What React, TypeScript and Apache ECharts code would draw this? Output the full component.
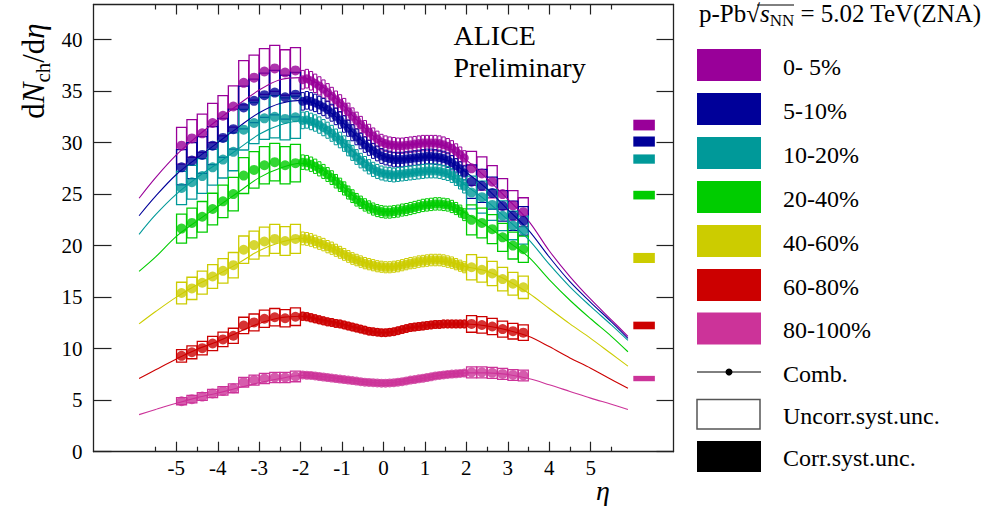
import React, { useEffect, useRef } from 'react';
import * as echarts from 'echarts';

const FONT = "'Liberation Serif', 'DejaVu Serif', serif";

const classNames = ['0- 5%', '5-10%', '10-20%', '20-40%', '40-60%', '60-80%', '80-100%'];
const classColors = ['#990099', '#000099', '#009999', '#00cc00', '#cccc00', '#cc0000', '#cc3399'];

// pseudorapidity bins
const etaFwdLeft = [-4.875, -4.625, -4.375, -4.125, -3.875, -3.625, -3.375, -3.125, -2.875, -2.625, -2.375, -2.125];
const etaFwdRight = [2.125, 2.375, 2.625, 2.875, 3.125, 3.375];
const etaMid = [-1.95, -1.85, -1.75, -1.65, -1.55, -1.45, -1.35, -1.25, -1.15, -1.05, -0.95, -0.85, -0.75, -0.65, -0.55, -0.45, -0.35, -0.25, -0.15, -0.05,
  0.05, 0.15, 0.25, 0.35, 0.45, 0.55, 0.65, 0.75, 0.85, 0.95, 1.05, 1.15, 1.25, 1.35, 1.45, 1.55, 1.65, 1.75, 1.85, 1.95];
const etaFit = [-5.9, -5.5, -5, -4.5, -4, -3.5, -3, -2.5, -2, -1.5, -1, -0.5, 0, 0.5, 1, 1.5, 2, 2.5, 3, 3.5, 4, 4.5, 5, 5.5, 5.9];

// dNch/deta, forward (left) bins
const fwdLeft0_5 = [29.7, 30.4, 30.9, 31.9, 32.6, 33.5, 35.8, 36.3, 36.9, 37.2, 36.8, 37.0];
const fwdLeft5_10 = [27.6, 28.25, 28.8, 29.7, 30.45, 31.3, 33.4, 34.05, 34.6, 34.85, 34.4, 34.65];
const fwdLeft10_20 = [25.6, 26.15, 26.75, 27.6, 28.35, 29.1, 31.25, 31.9, 32.35, 32.5, 32.3, 32.45];
const fwdLeft20_40 = [21.65, 22.2, 22.8, 23.55, 24.3, 25.0, 26.8, 27.35, 27.8, 28.1, 27.8, 28.0];
const fwdLeft40_60 = [15.4, 15.85, 16.4, 17.0, 17.55, 18.1, 19.6, 20.05, 20.4, 20.65, 20.45, 20.65];
const fwdLeft60_80 = [9.3, 9.65, 10.05, 10.5, 10.9, 11.25, 12.25, 12.55, 12.9, 13.05, 12.95, 13.1];
const fwdLeft80_100 = [4.9, 5.1, 5.35, 5.65, 5.9, 6.15, 6.75, 6.95, 7.1, 7.2, 7.2, 7.3];

// forward (right) bins
const fwdRight0_5 = [27.5, 27.0, 26.2, 25.0, 23.9, 23.25];
const fwdRight5_10 = [26.2, 25.8, 25.1, 23.85, 22.9, 22.4];
const fwdRight10_20 = [25.15, 24.7, 23.95, 22.9, 21.95, 21.5];
const fwdRight20_40 = [22.5, 22.2, 21.6, 20.8, 20.0, 19.65];
const fwdRight40_60 = [17.9, 17.65, 17.3, 16.75, 16.3, 15.95];
const fwdRight60_80 = [12.4, 12.3, 12.15, 11.9, 11.7, 11.55];
const fwdRight80_100 = [7.7, 7.7, 7.65, 7.55, 7.45, 7.4];

// central bins
const mid0_5 = [36.1, 36.2, 36.0, 35.75, 35.5, 35.2, 34.85, 34.5, 34.15, 33.8, 33.45, 33.0, 32.55, 32.15, 31.75, 31.35, 31.0, 30.65, 30.35, 30.05,
  29.9, 29.8, 29.75, 29.7, 29.7, 29.75, 29.8, 29.85, 29.9, 29.95, 29.95, 29.95, 29.95, 29.9, 29.8, 29.65, 29.45, 29.15, 28.85, 28.5];
const mid5_10 = [34.0, 34.1, 34.0, 33.85, 33.65, 33.45, 33.2, 32.9, 32.55, 32.2, 31.8, 31.4, 30.95, 30.55, 30.15, 29.8, 29.5, 29.2, 28.95, 28.7,
  28.55, 28.45, 28.35, 28.35, 28.35, 28.4, 28.45, 28.5, 28.55, 28.6, 28.65, 28.65, 28.6, 28.55, 28.45, 28.3, 28.05, 27.75, 27.45, 27.05];
const mid10_20 = [32.15, 32.2, 32.05, 31.9, 31.7, 31.45, 31.2, 30.9, 30.55, 30.25, 29.9, 29.45, 29.0, 28.6, 28.25, 27.95, 27.65, 27.4, 27.2, 27.05,
  26.95, 26.9, 26.85, 26.9, 26.95, 27.0, 27.05, 27.1, 27.15, 27.2, 27.25, 27.25, 27.25, 27.2, 27.1, 27.0, 26.8, 26.5, 26.15, 25.75];
const mid20_40 = [28.1, 28.05, 27.9, 27.7, 27.45, 27.2, 26.9, 26.6, 26.25, 25.9, 25.55, 25.15, 24.8, 24.45, 24.2, 23.95, 23.75, 23.55, 23.4, 23.3,
  23.25, 23.25, 23.3, 23.35, 23.45, 23.5, 23.6, 23.7, 23.8, 23.9, 23.95, 24.0, 24.05, 24.05, 24.0, 23.95, 23.8, 23.6, 23.35, 23.0];
const mid40_60 = [20.7, 20.65, 20.55, 20.4, 20.25, 20.1, 19.9, 19.75, 19.55, 19.35, 19.15, 18.95, 18.75, 18.6, 18.45, 18.3, 18.2, 18.1, 18.0, 17.95,
  17.9, 17.9, 17.95, 18.0, 18.1, 18.2, 18.3, 18.35, 18.45, 18.5, 18.55, 18.6, 18.6, 18.6, 18.55, 18.45, 18.35, 18.2, 18.05, 17.9];
const mid60_80 = [13.15, 13.1, 13.0, 12.9, 12.8, 12.7, 12.6, 12.55, 12.45, 12.4, 12.3, 12.2, 12.1, 12.0, 11.9, 11.8, 11.7, 11.65, 11.6, 11.55,
  11.55, 11.6, 11.65, 11.75, 11.85, 11.95, 12.05, 12.1, 12.15, 12.2, 12.25, 12.3, 12.35, 12.35, 12.4, 12.4, 12.4, 12.4, 12.4, 12.4];
const mid80_100 = [7.45, 7.42, 7.4, 7.35, 7.3, 7.25, 7.2, 7.15, 7.1, 7.05, 7.0, 6.95, 6.9, 6.85, 6.8, 6.75, 6.72, 6.7, 6.67, 6.65,
  6.65, 6.67, 6.7, 6.75, 6.8, 6.87, 6.95, 7.0, 7.07, 7.13, 7.2, 7.27, 7.35, 7.4, 7.45, 7.5, 7.53, 7.56, 7.6, 7.63];

// fitted curves
const fit0_5 = [24.6, 26.6, 28.8, 30.6, 32.2, 33.7, 35.1, 36.1, 36.3, 35.5, 33.7, 31.6, 30.0, 29.75, 29.95, 29.65, 28.3, 26.5, 24.5, 22.4, 19.5, 17.0, 14.8, 12.8, 11.2];
const fit5_10 = [22.9, 24.8, 26.9, 28.5, 30.0, 31.5, 32.9, 33.8, 34.1, 33.5, 32.0, 30.1, 28.65, 28.4, 28.6, 28.3, 27.1, 25.5, 23.5, 21.5, 18.9, 16.5, 14.5, 12.6, 11.0];
const fit10_20 = [21.1, 23.0, 25.0, 26.6, 28.0, 29.4, 30.8, 31.7, 32.1, 31.5, 30.1, 28.3, 27.0, 26.95, 27.2, 27.0, 25.8, 24.3, 22.5, 20.6, 18.2, 16.0, 14.1, 12.3, 10.8];
const fit20_40 = [17.5, 18.9, 20.9, 22.4, 23.8, 25.2, 26.6, 27.5, 28.0, 27.4, 25.8, 24.1, 23.3, 23.45, 23.9, 23.9, 23.1, 21.9, 20.4, 18.9, 16.7, 14.7, 12.9, 11.2, 9.7];
const fit40_60 = [12.4, 13.6, 15.0, 16.2, 17.2, 18.3, 19.5, 20.3, 20.7, 20.2, 19.3, 18.4, 17.95, 18.1, 18.5, 18.45, 17.95, 17.5, 16.6, 15.4, 13.9, 12.4, 11.0, 9.5, 8.3];
const fit60_80 = [7.1, 7.95, 9.0, 9.95, 10.7, 11.6, 12.45, 13.0, 13.15, 12.8, 12.4, 11.85, 11.55, 11.9, 12.25, 12.4, 12.4, 12.2, 11.8, 11.2, 10.2, 9.1, 8.1, 7.0, 6.15];
const fit80_100 = [3.6, 4.1, 4.7, 5.25, 5.7, 6.2, 6.7, 7.1, 7.4, 7.3, 7.05, 6.8, 6.65, 6.85, 7.15, 7.5, 7.65, 7.65, 7.5, 7.1, 6.5, 5.85, 5.2, 4.6, 4.1];

// uncorrelated systematic uncertainty (relative)
const uncorrFwdRel = [0.06, 0.062, 0.063, 0.065, 0.068, 0.065, 0.07];
const uncorrMidRel = [0.025, 0.025, 0.025, 0.025, 0.03, 0.03, 0.035];

// correlated systematic uncertainty markers
const corrEta = 6.29;
const corrCenter = [31.7, 30.1, 28.4, 24.9, 18.8, 12.25, 7.1];
const corrHalf = [0.52, 0.49, 0.45, 0.42, 0.49, 0.37, 0.26];

const yTicks = [0, 5, 10, 15, 20, 25, 30, 35, 40];
const xMajor = [-5, -4, -3, -2, -1, 0, 1, 2, 3, 4, 5];
const xMinor = [-5.5, -4.5, -3.5, -2.5, -1.5, -0.5, 0.5, 1.5, 2.5, 3.5, 4.5, 5.5];

const fwdLeftAll = [fwdLeft0_5, fwdLeft5_10, fwdLeft10_20, fwdLeft20_40, fwdLeft40_60, fwdLeft60_80, fwdLeft80_100];
const fwdRightAll = [fwdRight0_5, fwdRight5_10, fwdRight10_20, fwdRight20_40, fwdRight40_60, fwdRight60_80, fwdRight80_100];
const midAll = [mid0_5, mid5_10, mid10_20, mid20_40, mid40_60, mid60_80, mid80_100];
const fitAll = [fit0_5, fit5_10, fit10_20, fit20_40, fit40_60, fit60_80, fit80_100];

const AXIS_COLOR = '#222';

function boxRender(color: string, filled: boolean, lw: number) {
  return (params: any, api: any) => {
    const x = api.value(0), y = api.value(1), hw = api.value(2), hh = api.value(3);
    const p1 = api.coord([x - hw, y + hh]);
    const p2 = api.coord([x + hw, y - hh]);
    return {
      type: 'rect',
      shape: { x: p1[0], y: p1[1], width: p2[0] - p1[0], height: p2[1] - p1[1] },
      style: filled ? { fill: color, stroke: 'none' } : { fill: 'none', stroke: color, lineWidth: lw },
    };
  };
}

function buildOption() {
  const boxSeries: any[] = [];
  const lineSeries: any[] = [];
  const dotSeries: any[] = [];
  const corrSeries: any[] = [];
  for (let i = 0; i < classNames.length; i++) {
    const color = classColors[i];
    const fwd: number[][] = [];
    etaFwdLeft.forEach((e, k) => fwd.push([e, fwdLeftAll[i][k], 0.12, fwdLeftAll[i][k] * uncorrFwdRel[i]]));
    etaFwdRight.forEach((e, k) => fwd.push([e, fwdRightAll[i][k], 0.12, fwdRightAll[i][k] * uncorrFwdRel[i]]));
    const mid: number[][] = etaMid.map((e, k) => [e, midAll[i][k], 0.04, midAll[i][k] * uncorrMidRel[i]]);
    boxSeries.push({
      type: 'custom', name: classNames[i] + ' uncorr', renderItem: boxRender(color, false, 1.3),
      data: fwd, encode: { x: 0, y: 1 }, silent: true, z: 2,
    });
    boxSeries.push({
      type: 'custom', name: classNames[i] + ' uncorr mid', renderItem: boxRender(color, false, 1),
      data: mid, encode: { x: 0, y: 1 }, silent: true, z: 2,
    });
    lineSeries.push({
      type: 'line', name: classNames[i] + ' fit', data: etaFit.map((e, k) => [e, fitAll[i][k]]),
      showSymbol: false, smooth: 0.35, lineStyle: { color, width: 1.1 }, silent: true, z: 3,
    });
    const pts: number[][] = [];
    etaFwdLeft.forEach((e, k) => pts.push([e, fwdLeftAll[i][k]]));
    etaFwdRight.forEach((e, k) => pts.push([e, fwdRightAll[i][k]]));
    dotSeries.push({
      type: 'scatter', name: classNames[i], data: pts, symbol: 'circle', symbolSize: 10,
      itemStyle: { color }, silent: true, z: 4,
    });
    dotSeries.push({
      type: 'scatter', name: classNames[i] + ' mid', data: etaMid.map((e, k) => [e, midAll[i][k]]), symbol: 'circle', symbolSize: 9,
      itemStyle: { color }, silent: true, z: 4,
    });
    corrSeries.push({
      type: 'custom', name: classNames[i] + ' corr', renderItem: boxRender(color, true, 0),
      data: [[corrEta, corrCenter[i], 0.26, corrHalf[i]]], encode: { x: 0, y: 1 }, silent: true, z: 5,
    });
  }

  const legendX = 697;
  const legendTextX = 783;
  const swatchCenters = [65, 109, 153, 197, 241, 285, 328.5];
  const graphics: any[] = [];
  swatchCenters.forEach((cy, i) => {
    graphics.push({ type: 'rect', shape: { x: legendX, y: cy - 16, width: 64, height: 32 }, style: { fill: classColors[i] } });
    graphics.push({ type: 'text', x: legendTextX, y: cy + 1.5, style: { text: classNames[i], font: `24px ${FONT}`, fill: '#000', align: 'left', verticalAlign: 'middle' } });
  });
  // Comb.
  graphics.push({ type: 'line', shape: { x1: legendX, y1: 372, x2: legendX + 64, y2: 372 }, style: { stroke: '#000', lineWidth: 1 } });
  graphics.push({ type: 'circle', shape: { cx: legendX + 32, cy: 372, r: 3.5 }, style: { fill: '#000' } });
  graphics.push({ type: 'text', x: legendTextX, y: 373.5, style: { text: 'Comb.', font: `24px ${FONT}`, fill: '#000', align: 'left', verticalAlign: 'middle' } });
  // Uncorr.
  graphics.push({ type: 'rect', shape: { x: legendX, y: 399.5, width: 63, height: 29.5 }, style: { fill: '#fff', stroke: '#555', lineWidth: 1.5 } });
  graphics.push({ type: 'text', x: legendTextX, y: 415.5, style: { text: 'Uncorr.syst.unc.', font: `24px ${FONT}`, fill: '#000', align: 'left', verticalAlign: 'middle' } });
  // Corr.
  graphics.push({ type: 'rect', shape: { x: legendX, y: 441, width: 64, height: 31 }, style: { fill: '#000' } });
  graphics.push({ type: 'text', x: legendTextX, y: 458, style: { text: 'Corr.syst.unc.', font: `24px ${FONT}`, fill: '#000', align: 'left', verticalAlign: 'middle' } });

  // legend header
  graphics.push({
    type: 'text', x: 699, y: 13.5,
    style: {
      text: '{a|p-Pb}{r|√}{s|s}{n|NN}{a| = 5.02 TeV(ZNA)}',
      align: 'left', verticalAlign: 'middle', font: `25px ${FONT}`, fill: '#000',
      rich: {
        a: { fontSize: 25, fontFamily: FONT, fill: '#000', lineHeight: 30 },
        r: { fontSize: 25, fontFamily: FONT, fill: '#000', lineHeight: 30 },
        s: { fontSize: 25, fontFamily: FONT, fontStyle: 'italic', fill: '#000', lineHeight: 30 },
        n: { fontSize: 17, fontFamily: FONT, fill: '#000', lineHeight: 17, verticalAlign: 'bottom' },
      },
    },
  });
  graphics.push({ type: 'line', shape: { x1: 757, y1: 5, x2: 794, y2: 5 }, style: { stroke: '#000', lineWidth: 1 } });

  // ALICE Preliminary
  graphics.push({ type: 'text', x: 453.5, y: 35, style: { text: 'ALICE', font: `28px ${FONT}`, fill: '#000', align: 'left', verticalAlign: 'middle' } });
  graphics.push({ type: 'text', x: 453.5, y: 67.5, style: { text: 'Preliminary', font: `28px ${FONT}`, fill: '#000', align: 'left', verticalAlign: 'middle' } });

  // axis titles
  graphics.push({
    type: 'text', x: 33, y: 71, rotation: Math.PI / 2,
    style: {
      text: '{d|d}{it|N}{sub|ch}{d|/d}{it|η}',
      align: 'center', verticalAlign: 'middle', font: `31px ${FONT}`, fill: '#000',
      rich: {
        d: { fontSize: 31, fontFamily: FONT, fill: '#000', lineHeight: 40 },
        it: { fontSize: 31, fontFamily: FONT, fontStyle: 'italic', fill: '#000', lineHeight: 40 },
        sub: { fontSize: 21, fontFamily: FONT, fill: '#000', lineHeight: 21, verticalAlign: 'bottom' },
      },
    },
  });
  graphics.push({ type: 'text', x: 603, y: 490, style: { text: 'η', font: `italic 28px ${FONT}`, lineHeight: 18, fill: '#000', align: 'center', verticalAlign: 'middle' } });

  const xCommon = { type: 'value', min: -7, max: 7, interval: 1, splitLine: { show: false } };
  const yCommon = { type: 'value', min: 0, max: 43.4, interval: 5, splitLine: { show: false } };

  return {
    animation: false,
    backgroundColor: '#fff',
    textStyle: { fontFamily: FONT },
    grid: { left: 93.5, right: 321.5, top: 4.5, bottom: 54.3, containLabel: false },
    xAxis: [
      {
        ...xCommon, position: 'bottom',
        axisLine: { show: true, onZero: false, lineStyle: { color: AXIS_COLOR, width: 1.3 } },
        axisTick: { show: true, inside: true, length: 10, customValues: xMajor, lineStyle: { color: AXIS_COLOR, width: 1.2 } },
        axisLabel: { show: true, customValues: xMajor, margin: 8, fontSize: 21, lineHeight: 16, fontFamily: FONT, color: '#000',
          formatter: (v: number) => (Math.abs(v) <= 5 ? String(v) : '') },
      },
      {
        ...xCommon, position: 'bottom',
        axisLine: { show: false, onZero: false },
        axisTick: { show: true, inside: true, length: 5, customValues: xMinor, lineStyle: { color: AXIS_COLOR, width: 1.2 } },
        axisLabel: { show: false },
      },
      {
        ...xCommon, position: 'top',
        axisLine: { show: true, onZero: false, lineStyle: { color: AXIS_COLOR, width: 1.3 } },
        axisTick: { show: true, inside: true, length: 10, customValues: xMajor, lineStyle: { color: AXIS_COLOR, width: 1.2 } },
        axisLabel: { show: false },
      },
      {
        ...xCommon, position: 'top',
        axisLine: { show: false, onZero: false },
        axisTick: { show: true, inside: true, length: 5, customValues: xMinor, lineStyle: { color: AXIS_COLOR, width: 1.2 } },
        axisLabel: { show: false },
      },
    ],
    yAxis: [
      {
        ...yCommon, position: 'left',
        axisLine: { show: true, onZero: false, lineStyle: { color: AXIS_COLOR, width: 1.3 } },
        axisTick: { show: true, inside: true, length: 18, customValues: yTicks, lineStyle: { color: AXIS_COLOR, width: 1.2 } },
        axisLabel: { show: true, customValues: yTicks, margin: 11, fontSize: 21, fontFamily: FONT, color: '#000' },
      },
      {
        ...yCommon, position: 'right',
        axisLine: { show: true, onZero: false, lineStyle: { color: AXIS_COLOR, width: 1.3 } },
        axisTick: { show: true, inside: true, length: 17, customValues: yTicks, lineStyle: { color: AXIS_COLOR, width: 1.2 } },
        axisLabel: { show: false },
      },
    ],
    series: [...boxSeries, ...lineSeries, ...dotSeries, ...corrSeries],
    graphic: { elements: graphics },
  };
}

export default function App() {
  const ref = useRef<HTMLDivElement>(null);
  useEffect(() => {
    const chart = echarts.init(ref.current!, null, { renderer: 'svg' });
    chart.setOption(buildOption() as any);
    return () => chart.dispose();
  }, []);
  return (
    <div
      ref={ref}
      style={{ position: 'fixed', left: 0, top: 0, width: 995, height: 506, background: '#fff' }}
    />
  );
}
